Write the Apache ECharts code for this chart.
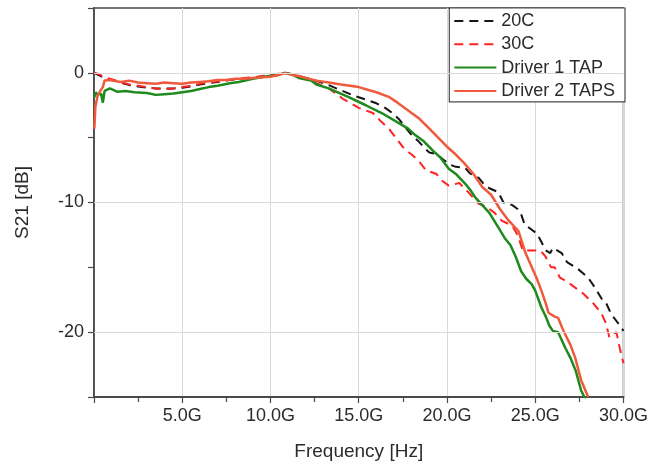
<!DOCTYPE html>
<html>
<head>
<meta charset="utf-8">
<script src="https://cdn.jsdelivr.net/npm/echarts@6/dist/echarts.min.js"></script>
<style>
  html, body { margin: 0; padding: 0; background: #ffffff; }
  #chart { width: 651px; height: 466px; }
</style>
</head>
<body>
<div id="chart"></div>
<script>
// S21 frequency response, frequency in GHz, magnitude in dB

const freq20C = [0, 0.3, 0.6, 1.0, 1.5, 2.0, 2.5, 3.0, 3.5, 4.0, 4.5, 5.0, 5.5, 6.0, 6.5, 7.0, 7.5, 8.0, 8.5, 9.0,
  9.5, 10.0, 10.5, 10.8, 11.2, 11.6, 12.0, 12.7, 13.3, 14.0, 14.8, 15.6, 16.0, 16.5, 16.9, 17.3, 17.7, 18.0, 18.4, 18.8,
  19.0, 19.4, 19.8, 20.2, 20.5, 21.0, 21.3, 21.8, 22.1, 22.4, 22.9, 23.2, 23.7, 24.0, 24.2, 24.4, 25.1, 25.6, 25.85, 26.0,
  26.5, 26.8, 27.4, 28.0, 28.4, 28.8, 29.0, 29.3, 29.8, 30.0];
const s21_20C = [0, -0.2, -0.4, -0.55, -0.75, -0.95, -1.05, -1.15, -1.2, -1.2, -1.2, -1.15, -1.05, -0.9, -0.8, -0.7, -0.6, -0.5, -0.45, -0.35,
  -0.3, -0.2, -0.1, 0, -0.1, -0.25, -0.4, -0.65, -0.95, -1.35, -1.8, -2.15, -2.35, -2.7, -3.1, -3.6, -4.3, -4.8, -5.3, -5.9,
  -6.15, -6.25, -6.7, -7.1, -7.25, -7.3, -7.75, -8.1, -8.6, -8.9, -9.2, -10.0, -10.2, -10.5, -10.9, -11.7, -12.4, -13.7, -13.9, -13.5,
  -13.9, -14.6, -15.1, -15.8, -16.6, -17.5, -17.7, -18.6, -19.5, -19.9];

const freq30C = [0, 0.3, 0.5, 1.0, 1.5, 2.0, 2.5, 3.0, 3.5, 4.0, 4.5, 5.0, 5.5, 6.0, 6.5, 7.0, 7.5, 8.0, 8.5, 9.0,
  9.5, 10.0, 10.5, 10.8, 11.2, 11.6, 12.0, 12.6, 13.3, 14.1, 15.0, 15.8, 16.3, 16.7, 17.1, 17.6, 18.0, 18.4, 18.8, 19.4,
  19.7, 20.1, 20.7, 21.2, 21.8, 22.2, 22.7, 23.1, 23.7, 24.0, 24.3, 25.3, 25.6, 25.9, 26.1, 26.4, 26.8, 27.3, 27.7, 28.0,
  28.3, 28.6, 28.8, 29.0, 29.2, 29.6, 29.8, 30.0];
const s21_30C = [0, -0.1, -0.3, -0.5, -0.7, -0.9, -1.0, -1.1, -1.2, -1.25, -1.2, -1.1, -1.0, -0.85, -0.75, -0.65, -0.55, -0.5, -0.4, -0.35,
  -0.25, -0.2, -0.05, 0, -0.1, -0.3, -0.5, -0.8, -1.2, -2.0, -2.7, -3.1, -3.8, -4.3, -5.0, -5.9, -6.3, -6.8, -7.5, -7.8,
  -8.3, -8.7, -8.5, -9.2, -10.1, -10.3, -10.8, -11.4, -11.8, -12.5, -13.7, -13.7, -14.2, -15.0, -15.0, -15.8, -16.1, -16.6, -17.0, -17.4,
  -17.8, -18.3, -18.7, -19.3, -20.4, -20.0, -21.3, -22.4];

const freqDriver1 = [0.02, 0.1, 0.2, 0.3, 0.4, 0.5, 0.6, 0.9, 1.3, 1.8, 2.3, 3.0, 3.5, 4.0, 4.5, 5.0, 5.5, 6.0, 6.5, 7.0,
  7.7, 8.2, 9.0, 9.9, 10.3, 10.8, 11.2, 11.6, 12.3, 12.6, 13.3, 14.4, 15.4, 16.3, 17.3, 17.8, 18.2, 18.7, 19.2, 19.6,
  20.1, 20.5, 21.0, 21.3, 21.6, 22.0, 22.4, 22.9, 23.3, 23.6, 23.9, 24.2, 24.5, 24.8, 25.0, 25.35, 25.6, 25.8, 26.0, 26.3,
  26.7, 27.0, 27.3, 27.6, 27.85];
const s21Driver1 = [-1.9, -1.5, -1.7, -1.55, -1.6, -2.3, -1.4, -1.2, -1.45, -1.4, -1.5, -1.55, -1.7, -1.65, -1.6, -1.5, -1.4, -1.25, -1.1, -1.0,
  -0.8, -0.7, -0.45, -0.25, -0.2, 0, -0.1, -0.4, -0.6, -0.9, -1.2, -1.85, -2.5, -3.1, -3.9, -4.3, -4.8, -5.3, -6.0, -6.5,
  -7.4, -7.8, -8.5, -9.0, -9.6, -10.2, -10.8, -11.9, -12.8, -13.3, -14.2, -15.3, -15.9, -16.3, -16.8, -18.1, -18.8, -19.5, -19.9, -20.0,
  -21.2, -22.0, -23.0, -24.5, -25.2];

const freqDriver2 = [0.02, 0.08, 0.2, 0.35, 0.5, 0.6, 0.9, 1.5, 2.0, 2.5, 3.0, 3.5, 4.0, 4.5, 5.0, 5.5, 6.0, 6.5, 7.0, 7.5,
  8.0, 8.5, 9.0, 9.5, 10.0, 10.5, 10.8, 11.2, 11.6, 12.0, 12.6, 13.3, 14.0, 15.0, 15.5, 16.0, 16.7, 17.2, 17.8, 18.4,
  19.0, 19.5, 20.0, 20.5, 21.0, 21.5, 22.0, 22.5, 23.0, 23.5, 24.05, 24.45, 25.07, 25.35, 25.6, 25.75, 26.1, 26.3, 26.6, 27.0,
  27.27, 27.6, 28.0];
const s21Driver2 = [-4.3, -2.6, -1.8, -1.4, -1.1, -0.6, -0.55, -0.7, -0.6, -0.75, -0.8, -0.85, -0.75, -0.8, -0.85, -0.75, -0.7, -0.65, -0.55, -0.55,
  -0.45, -0.45, -0.4, -0.35, -0.3, -0.15, -0.02, -0.15, -0.25, -0.4, -0.6, -0.75, -0.9, -1.1, -1.3, -1.5, -1.85, -2.3, -2.9, -3.5,
  -4.3, -5.0, -5.7, -6.3, -7.0, -7.8, -8.8, -9.4, -10.5, -11.4, -12.2, -13.9, -15.8, -16.8, -17.8, -18.5, -18.8, -18.9, -19.9, -21.0,
  -22.0, -23.7, -25.0];

const seriesNames = ['20C', '30C', 'Driver 1 TAP', 'Driver 2 TAPS'];
const xTickValues = [5, 10, 15, 20, 25, 30];
const yGridValues = [0, -10, -20];

const pair = (xs, ys) => xs.map((x, i) => [x, ys[i]]);

const FONT = 'Liberation Sans, Arial, Helvetica, sans-serif';
const AXIS_COLOR = '#4a4a4a';
const TEXT_COLOR = '#2b2b2b';

const chart = echarts.init(document.getElementById('chart'), null, { renderer: 'canvas' });

chart.setOption({
  animation: false,
  backgroundColor: '#ffffff',
  textStyle: { fontFamily: FONT },
  grid: {
    left: 94, right: 26, top: 8, bottom: 68,
    show: true, borderColor: AXIS_COLOR, borderWidth: 1.5, backgroundColor: 'transparent'
  },
  legend: {
    data: seriesNames,
    orient: 'vertical',
    right: 26,
    top: 8,
    padding: [4, 10, 2, 4],
    itemGap: 5.3,
    itemWidth: 42,
    itemHeight: 14,
    itemStyle: { opacity: 0 },
    backgroundColor: '#ffffff',
    borderColor: AXIS_COLOR,
    borderWidth: 1.2,
    borderRadius: 0,
    textStyle: { fontFamily: FONT, fontSize: 18, color: TEXT_COLOR }
  },
  xAxis: {
    type: 'value',
    min: 0, max: 30, interval: 5,
    name: 'Frequency [Hz]',
    nameLocation: 'middle',
    nameGap: 45,
    nameTextStyle: { fontFamily: FONT, fontSize: 19, color: TEXT_COLOR },
    axisLine: { show: true, onZero: false, lineStyle: { color: AXIS_COLOR, width: 1.8 } },
    axisTick: { show: true, inside: false, length: 6, lineStyle: { color: AXIS_COLOR, width: 1.2 } },
    minorTick: { show: true, splitNumber: 2, length: 5, lineStyle: { color: AXIS_COLOR, width: 1.2 } },
    axisLabel: {
      fontFamily: FONT, fontSize: 18, color: TEXT_COLOR, margin: 10,
      formatter: v => (xTickValues.indexOf(v) >= 0 ? v.toFixed(1) + 'G' : '')
    },
    splitLine: { show: true, lineStyle: { color: '#d9d9d9', width: 1 } }
  },
  yAxis: {
    type: 'value',
    min: -25, max: 5, interval: 5,
    name: 'S21 [dB]',
    nameLocation: 'middle',
    nameGap: 62,
    nameTextStyle: { fontFamily: FONT, fontSize: 19, color: TEXT_COLOR },
    axisLine: { show: true, onZero: false, lineStyle: { color: AXIS_COLOR, width: 1.8 } },
    axisTick: { show: true, inside: false, length: 6, lineStyle: { color: AXIS_COLOR, width: 1.2 } },
    axisLabel: {
      fontFamily: FONT, fontSize: 18, color: TEXT_COLOR, margin: 10,
      formatter: v => (yGridValues.indexOf(v) >= 0 ? String(v) : '')
    },
    splitLine: { show: false }
  },
  series: [
    {
      // horizontal grid lines at the labelled dB levels
      name: 'gridlines',
      type: 'line',
      data: [],
      silent: true,
      z: 1,
      markLine: {
        silent: true,
        symbol: 'none',
        label: { show: false },
        lineStyle: { color: '#d9d9d9', width: 1, type: 'solid' },
        data: yGridValues.map(v => ({ yAxis: v }))
      }
    },
    {
      name: '20C', type: 'line', data: pair(freq20C, s21_20C),
      showSymbol: false, symbol: 'none', z: 3,
      lineStyle: { color: '#151515', width: 2, type: [9, 6] },
      itemStyle: { color: '#151515' }
    },
    {
      name: '30C', type: 'line', data: pair(freq30C, s21_30C),
      showSymbol: false, symbol: 'none', z: 3,
      lineStyle: { color: '#ff2222', width: 2, type: [9, 6] },
      itemStyle: { color: '#ff2222' }
    },
    {
      name: 'Driver 1 TAP', type: 'line', data: pair(freqDriver1, s21Driver1),
      showSymbol: false, symbol: 'none', z: 3,
      lineStyle: { color: '#1e8a1e', width: 2.5 },
      itemStyle: { color: '#1e8a1e' }
    },
    {
      name: 'Driver 2 TAPS', type: 'line', data: pair(freqDriver2, s21Driver2),
      showSymbol: false, symbol: 'none', z: 3,
      lineStyle: { color: '#f05a3c', width: 2.5 },
      itemStyle: { color: '#f05a3c' }
    }
  ]
});
</script>
</body>
</html>
